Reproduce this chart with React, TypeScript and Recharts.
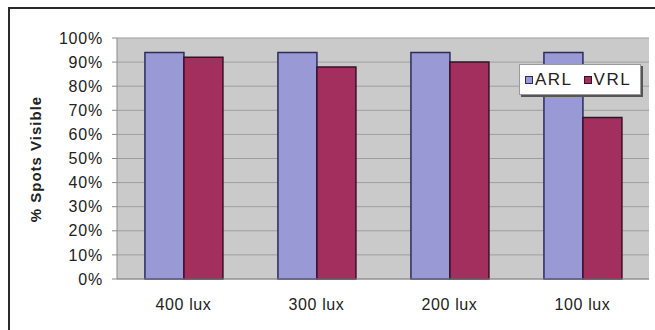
import React from "react";
import { BarChart, Bar, XAxis, YAxis, CartesianGrid, Legend } from "recharts";

// Illuminance levels along the category axis
const categories = ["400 lux", "300 lux", "200 lux", "100 lux"];
// Percentage of spots visible for each reading light type
const arlValues = [94, 94, 94, 94];
const vrlValues = [92, 88, 90, 67];
const yTicks = [0, 10, 20, 30, 40, 50, 60, 70, 80, 90, 100];

const seriesInfo = [
  { key: "ARL", fill: "#9999d5", stroke: "#2b2b5c" },
  { key: "VRL", fill: "#a32f5f", stroke: "#3d0f26" },
];

const data = categories.map((c, i) => ({
  name: c,
  ARL: arlValues[i],
  VRL: vrlValues[i],
}));

const FONT = "'Liberation Sans', Arial, Helvetica, sans-serif";

const LegendBox = (props: any) => {
  const payload = props.payload && props.payload.length
    ? props.payload.map((p: any) => ({ key: p.value, fill: p.color }))
    : seriesInfo;
  return (
    <div
      style={{
        background: "#ffffff",
        border: "1px solid #9a9a9a",
        boxShadow: "2px 2px 0 #555555",
        height: 31,
        width: 122,
        display: "flex",
        alignItems: "center",
        paddingLeft: 5,
        boxSizing: "border-box",
        fontFamily: FONT,
        fontSize: 17,
        letterSpacing: 1.5,
        color: "#222",
      }}
    >
      {payload.map((p: any, i: number) => {
        const s = seriesInfo.find((x) => x.key === p.key) || seriesInfo[i];
        return (
          <span
            key={p.key}
            style={{ display: "flex", alignItems: "center", marginRight: i === 0 ? 11 : 0 }}
          >
            <span
              style={{
                display: "inline-block",
                width: 6,
                height: 6,
                background: s.fill,
                border: `1px solid ${s.stroke}`,
                marginRight: 2,
              }}
            />
            <span>{p.key}</span>
          </span>
        );
      })}
    </div>
  );
};

const YLabel = () => (
  <text
    x={35}
    y={159}
    transform="rotate(-90, 35, 159)"
    textAnchor="middle"
    dominantBaseline="central"
    fontFamily={FONT}
    fontSize={15}
    fontWeight="bold"
    letterSpacing={1}
    fill="#222"
  >
    % Spots Visible
  </text>
);

export default function App() {
  return (
    <div style={{ position: "absolute", left: 0, top: 0, width: 655, height: 330, background: "#fff", overflow: "hidden" }}>
      <div
        style={{
          position: "absolute",
          left: 8,
          top: 7,
          width: 700,
          height: 400,
          borderTop: "2px solid #2a2a2a",
          borderLeft: "2px solid #2a2a2a",
        }}
      />
      <div style={{ position: "absolute", left: 0, top: 0 }}>
        <BarChart
          width={655}
          height={330}
          data={data}
          margin={{ top: 38, right: 6, left: 0, bottom: 0 }}
          barCategoryGap="21%"
          barGap={0}
        >
          <CartesianGrid
            vertical={false}
            stroke="#9e9e9e"
            fill="#cacaca"
            fillOpacity={1}
          />
          <XAxis
            dataKey="name"
            height={51}
            tickLine={false}
            tickSize={0}
            tickMargin={20}
            axisLine={{ stroke: "#8a8a8a" }}
            tick={{ fontFamily: FONT, fontSize: 16, fill: "#222", letterSpacing: 0.6 }}
          />
          <YAxis
            width={117}
            domain={[0, 100]}
            ticks={yTicks}
            interval={0}
            tickFormatter={(v: number) => `${v}%`}
            tickSize={5}
            tickMargin={9}
            tickLine={{ stroke: "#8a8a8a" }}
            axisLine={{ stroke: "#8a8a8a" }}
            tick={{ fontFamily: FONT, fontSize: 16, fill: "#222", letterSpacing: 0.8 }}
            label={<YLabel />}
          />
          <YAxis
            yAxisId="frame"
            orientation="right"
            width={0}
            domain={[0, 100]}
            tick={false}
            tickLine={false}
            axisLine={{ stroke: "#9a9a9a" }}
          />
          <Legend
            layout="horizontal"
            verticalAlign="middle"
            align="center"
            content={<LegendBox />}
            wrapperStyle={{ position: "absolute", left: 519, top: 64, width: 124, height: 33 }}
          />
          {seriesInfo.map((s) => (
            <Bar
              key={s.key}
              dataKey={s.key}
              fill={s.fill}
              stroke={s.stroke}
              strokeWidth={1.5}
              isAnimationActive={false}
            />
          ))}
        </BarChart>
      </div>
    </div>
  );
}
